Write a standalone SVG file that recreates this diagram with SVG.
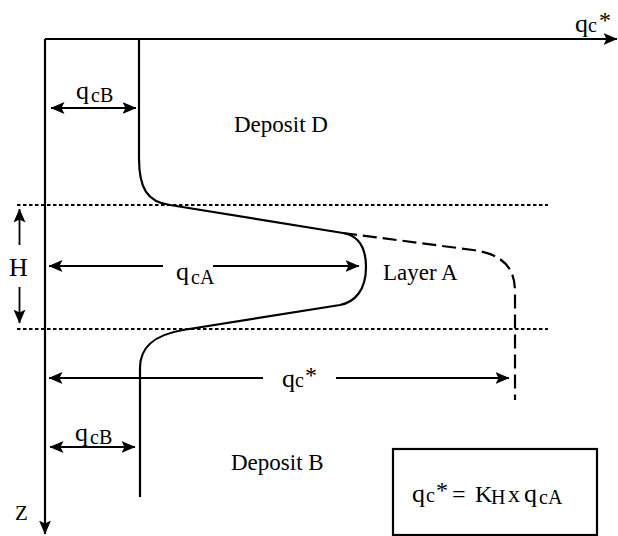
<svg xmlns="http://www.w3.org/2000/svg" width="618" height="536" viewBox="0 0 618 536">
<style>
.ln{fill:none;stroke:#000;stroke-width:2.2}
.thin{fill:none;stroke:#000;stroke-width:1.8}
.dot{fill:none;stroke:#000;stroke-width:2;stroke-dasharray:3.5 2.5}
.dash{fill:none;stroke:#000;stroke-width:2.2;stroke-dasharray:14 6}
text{font-family:"Liberation Serif","Times New Roman",serif;fill:#000}
.lbl{font-size:23px}
.q{font-size:26px}
.s{font-size:20px}
.st{font-size:24px}
.m{font-size:24px}
</style>
<defs>
<marker id="ah" viewBox="0 0 14 12" refX="13.5" refY="6" markerWidth="14" markerHeight="12" markerUnits="userSpaceOnUse" orient="auto-start-reverse">
<path d="M0,0 L14,6 L0,12 L3,6 Z" fill="#000"/>
</marker>
</defs>
<rect width="618" height="536" fill="#fff"/>
<g id="axes">
<path class="ln" d="M45,39 H617" marker-end="url(#ah)"/>
<path class="ln" d="M45,39 V534" marker-end="url(#ah)"/>
<text y="32"><tspan class="q" x="575">q</tspan><tspan class="s" x="588">c</tspan><tspan class="st" x="599" dy="-4">*</tspan></text>
<text x="15" y="520" font-size="21">Z</text>
</g>
<g id="layer-bounds">
<path class="dot" d="M17,205 H548"/>
<path class="dot" d="M17,329 H548"/>
</g>
<g id="profile">
<path class="ln" d="M139,39 V158 C139,188 147,202 170,205 L343,233 C360,236 366,250 366,267 C366,290 355,302 340,305 L183,330 C154,335 140,347 140,368 V497"/>
</g>
<g id="profile-star">
<path class="dash" d="M343,233 L473,250 C500,254 515,265 515,292 V400"/>
</g>
<g id="connectors">
<path class="ln" d="M51,108 H136" marker-start="url(#ah)" marker-end="url(#ah)"/>
<path class="ln" d="M50,447 H135" marker-start="url(#ah)" marker-end="url(#ah)"/>
<path class="ln" d="M163,266 H49" marker-end="url(#ah)"/>
<path class="ln" d="M213,266 H359" marker-end="url(#ah)"/>
<path class="ln" d="M263,378 H49" marker-end="url(#ah)"/>
<path class="ln" d="M336,378 H509" marker-end="url(#ah)"/>
<path class="thin" d="M19.5,245 V209" marker-end="url(#ah)"/>
<path class="thin" d="M19.5,287 V323" marker-end="url(#ah)"/>
</g>
<g id="labels">
<text y="99"><tspan class="q" x="76">q</tspan><tspan class="s" x="91" dy="3">cB</tspan></text>
<text y="441"><tspan class="q" x="75">q</tspan><tspan class="s" x="90" dy="3">cB</tspan></text>
<text y="280"><tspan class="q" x="176">q</tspan><tspan class="s" x="191" dy="4">cA</tspan></text>
<text y="387"><tspan class="q" x="282">q</tspan><tspan class="s" x="295">c</tspan><tspan class="st" x="305" dy="-4">*</tspan></text>
<text x="9" y="276" font-size="26">H</text>
<text class="lbl" x="234" y="132">Deposit D</text>
<text class="lbl" x="383" y="280">Layer A</text>
<text class="lbl" x="231" y="470">Deposit B</text>
</g>
<g id="formula">
<rect class="ln" x="393" y="449" width="204" height="86"/>
<text y="502"><tspan class="q" x="412">q</tspan><tspan class="s" x="426">c</tspan><tspan class="st" x="436" dy="-4">*</tspan><tspan class="m" x="452" dy="4">=</tspan><tspan class="m" x="475">K</tspan><tspan class="s" x="491" dy="2">H</tspan><tspan class="m" x="508" dy="-2">x</tspan><tspan class="q" x="524">q</tspan><tspan class="s" x="539" dy="2">cA</tspan></text>
</g>
</svg>
